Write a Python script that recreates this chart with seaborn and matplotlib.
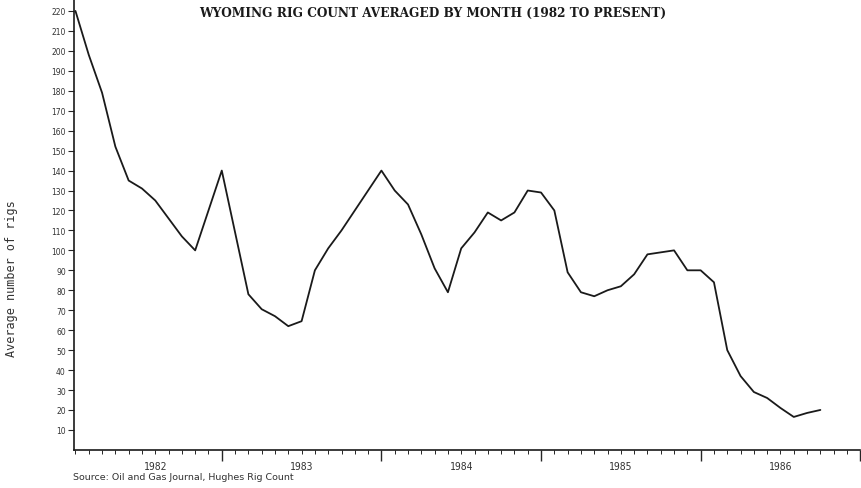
import numpy as np
import pandas as pd
import matplotlib
matplotlib.use("Agg")
import matplotlib.pyplot as plt
import seaborn as sns

# ---- data (monthly average rig count) ----
rigs_1982 = [220, 198, 179, 152, 135, 131, 125, 116, 107, 100, 120, 140]
rigs_1983 = [109, 78, 70.5, 67, 62, 64.5, 90, 101, 110, 120, 130, 140]
rigs_1984 = [130, 123, 108, 91, 79, 101, 109, 119, 115, 119, 130, 129]
rigs_1985 = [120, 89, 79, 77, 80, 82, 88, 98, 99, 100, 90, 90]
rigs_1986 = [84, 50, 37, 29, 26, 21, 16.5, 18.5, 20]

year_labels = ["1982", "1983", "1984", "1985", "1986"]
y_ticks = list(range(10, 230, 10))

title = "WYOMING RIG COUNT AVERAGED BY MONTH (1982 TO PRESENT)"
y_title = "Average number of rigs"
source = "Source: Oil and Gas Journal, Hughes Rig Count"

rigs = rigs_1982 + rigs_1983 + rigs_1984 + rigs_1985 + rigs_1986
df = pd.DataFrame({"month": np.arange(1, len(rigs) + 1), "rigs": rigs})

# ---- plot ----
sns.set_style("ticks")
plt.rcParams["font.family"] = ["DejaVu Sans"]

fig = plt.figure(figsize=(8.62, 4.89), dpi=100)
ax = fig.add_axes([0.086, 0.078, 0.912, 0.922])

sns.lineplot(data=df, x="month", y="rigs", color="#1a1a1a", linewidth=1.3, ax=ax)

ax.set_xlim(0.9, 60)
ax.set_ylim(0, 226)
sns.despine(ax=ax)
for s in ("left", "bottom"):
    ax.spines[s].set_linewidth(1.2)
    ax.spines[s].set_color("#1a1a1a")

ax.set_yticks(y_ticks)
ax.set_yticklabels([str(v) for v in y_ticks], fontsize=5.5, color="#333333")
ax.tick_params(axis="y", direction="out", length=4, width=0.8, pad=2)

# years: major ticks at year ends, monthly minor ticks, labels centred in each year
ax.set_xticks([12, 24, 36, 48, 60])
ax.set_xticklabels([])
ax.set_xticks(np.arange(1, 61), minor=True)
ax.tick_params(axis="x", which="major", direction="out", length=8, width=1.0)
ax.tick_params(axis="x", which="minor", direction="out", length=3, width=0.7)
label_pos = [7, 18, 30, 42, 54]
for pos, lab in zip(label_pos, year_labels):
    ax.text(pos, -5.5, lab, ha="center", va="top", fontsize=7,
            color="#333333", fontfamily="DejaVu Sans Mono", transform=ax.transData)

ax.set_xlabel("")
ax.set_ylabel("")
fig.text(0.013, 0.43, y_title, rotation=90, ha="center", va="center",
         fontsize=8.5, color="#333333", fontfamily="DejaVu Sans Mono")
fig.text(0.502, 0.985, title, ha="center", va="top", fontsize=8.7,
         fontweight="bold", fontfamily="DejaVu Serif", color="#1a1a1a")
fig.text(0.085, 0.015, source, ha="left", va="bottom", fontsize=6.8,
         color="#333333")

fig.savefig("out.png", dpi=100)
